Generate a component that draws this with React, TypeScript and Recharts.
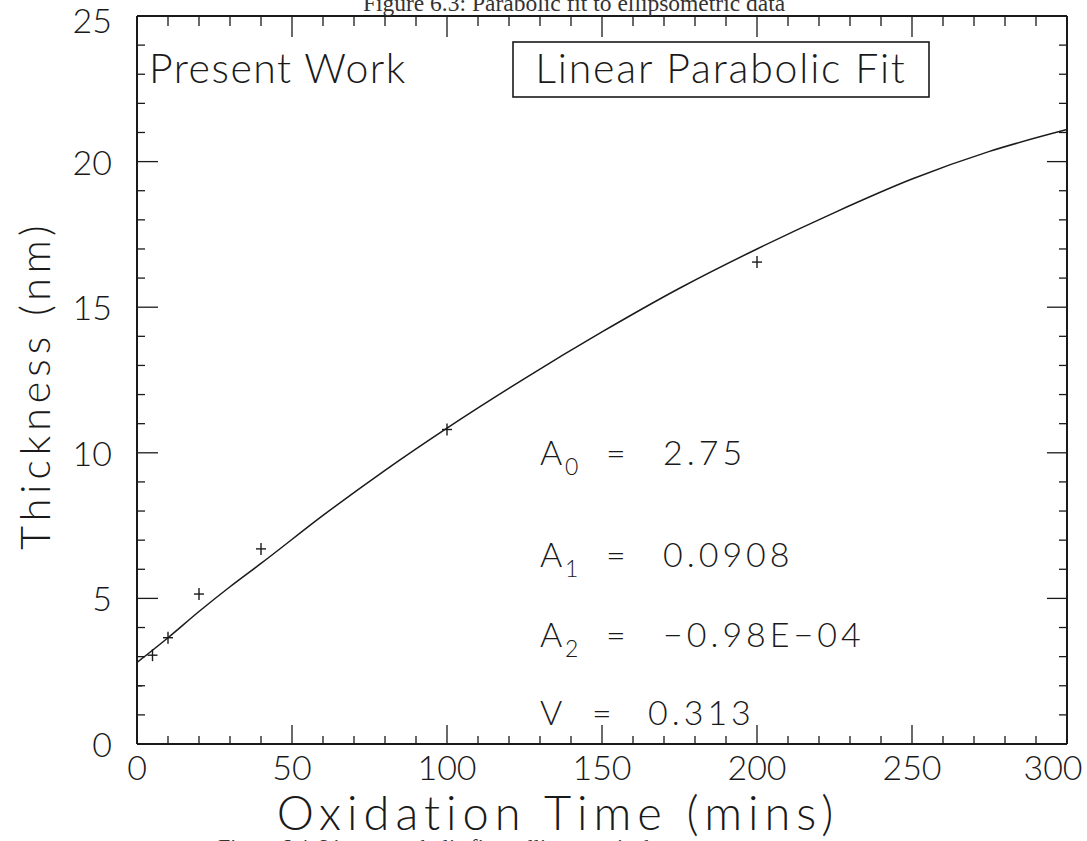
import React from "react";
import { ComposedChart, Line, Scatter, XAxis, YAxis } from "recharts";

// ---- data ----
const pointTimes = [0, 5, 10, 20, 40, 100, 200];
const pointThickness = [2.0, 3.05, 3.65, 5.15, 6.7, 10.8, 16.55];

const fitTimes = [0, 10, 20, 30, 40, 60, 80, 100, 125, 150, 175, 200, 225, 250, 275, 300];
const fitThickness = [2.8, 3.65, 4.55, 5.4, 6.2, 7.85, 9.4, 10.85, 12.55, 14.15, 15.65, 17.0, 18.25, 19.4, 20.35, 21.1];

const xTicks = [0, 10, 20, 30, 40, 50, 60, 70, 80, 90, 100, 110, 120, 130, 140, 150, 160, 170, 180, 190, 200, 210, 220, 230, 240, 250, 260, 270, 280, 290, 300];
const xMajor = [0, 50, 100, 150, 200, 250, 300];
const yTicks = [0, 1, 2, 3, 4, 5, 6, 7, 8, 9, 10, 11, 12, 13, 14, 15, 16, 17, 18, 19, 20, 21, 22, 23, 24, 25];
const yMajor = [0, 5, 10, 15, 20, 25];

const titleTop = "Figure 6.3: Parabolic fit to ellipsometric data";
const captionBottom = "Figure 6.4: Linear parabolic fit to ellipsometric data";
const legendLeft = "Present Work";
const legendBox = "Linear Parabolic Fit";
const xTitle = "Oxidation Time (mins)";
const yTitle = "Thickness (nm)";
const params = [
  { name: "A", sub: "0", value: "2.75" },
  { name: "A", sub: "1", value: "0.0908" },
  { name: "A", sub: "2", value: "\u22120.98E\u221204" },
];
const vValue = "0.313";

const points = pointTimes.map((t, i) => ({ t, y: pointThickness[i] }));
const fit = fitTimes.map((t, i) => ({ t, y: fitThickness[i] }));

const FONT = "Lato, 'Open Sans', 'DejaVu Sans', sans-serif";
const INK = "#1a1a1a";

const BottomTick = (props: any) => {
  const { x, y, payload } = props;
  const major = xMajor.includes(payload.value);
  const lx = payload.value === 300 ? x - 14 : x;
  return (
    <g>
      <line x1={x} x2={x} y1={y} y2={y - (major ? 19 : 8)} stroke={INK} strokeWidth={1.3} />
      {major && (
        <text x={lx} y={y + 36} textAnchor="middle" fontFamily={FONT} fontWeight={300} fontSize={34} fill={INK}>
          {payload.value}
        </text>
      )}
    </g>
  );
};

const TopTick = (props: any) => {
  const { x, y, payload } = props;
  const major = xMajor.includes(payload.value);
  return <line x1={x} x2={x} y1={y} y2={y + (major ? 21 : 10)} stroke={INK} strokeWidth={1.3} />;
};

const LeftTick = (props: any) => {
  const { x, y, payload } = props;
  const major = yMajor.includes(payload.value);
  const dy = payload.value === 25 ? 17 : 13;
  return (
    <g>
      <line x1={x} x2={x + (major ? 21 : 8)} y1={y} y2={y} stroke={INK} strokeWidth={1.3} />
      {major && (
        <text x={x - 25} y={y + dy} textAnchor="end" fontFamily={FONT} fontWeight={300} fontSize={34} fill={INK}>
          {payload.value}
        </text>
      )}
    </g>
  );
};

const RightTick = (props: any) => {
  const { x, y, payload } = props;
  const major = yMajor.includes(payload.value);
  return <line x1={x} x2={x - (major ? 20 : 8)} y1={y} y2={y} stroke={INK} strokeWidth={1.3} />;
};

const CrossShape = (props: any) => {
  const { cx, cy } = props;
  if (cx == null || cy == null) return null;
  return (
    <g>
      <line x1={cx - 5} x2={cx + 5} y1={cy} y2={cy} stroke={INK} strokeWidth={1.4} />
      <line x1={cx} x2={cx} y1={cy - 6} y2={cy + 6} stroke={INK} strokeWidth={1.4} />
    </g>
  );
};

const txt = { fontFamily: FONT, fontWeight: 300, fill: INK } as const;

const axisCommon = {
  tickSize: 0,
  tickMargin: 0,
  tickLine: false,
  interval: 0 as const,
  allowDataOverflow: true,
  axisLine: { stroke: INK, strokeWidth: 2 },
};

export default function App() {
  return (
    <div style={{ position: "absolute", left: 0, top: 0, width: 1087, height: 841, background: "#fff", overflow: "hidden" }}>
      <ComposedChart width={1087} height={841} margin={{ top: 15, right: 19, bottom: 96, left: 136 }}>
        <XAxis
          xAxisId="bottom"
          dataKey="t"
          type="number"
          domain={[0, 300]}
          ticks={xTicks}
          height={1}
          tick={<BottomTick />}
          {...axisCommon}
        />
        <XAxis
          xAxisId="top"
          orientation="top"
          dataKey="t"
          type="number"
          domain={[0, 300]}
          ticks={xTicks}
          height={1}
          tick={<TopTick />}
          {...axisCommon}
        />
        <YAxis
          yAxisId="left"
          type="number"
          domain={[0, 25]}
          ticks={yTicks}
          width={1}
          tick={<LeftTick />}
          {...axisCommon}
        />
        <YAxis
          yAxisId="right"
          orientation="right"
          type="number"
          domain={[0, 25]}
          ticks={yTicks}
          width={1}
          tick={<RightTick />}
          {...axisCommon}
        />
        <Line
          xAxisId="top"
          yAxisId="right"
          data={fit}
          dataKey="y"
          type="monotone"
          stroke="none"
          dot={false}
          activeDot={false}
          isAnimationActive={false}
        />
        <Line
          xAxisId="bottom"
          yAxisId="left"
          data={fit}
          dataKey="y"
          type="monotone"
          stroke={INK}
          strokeWidth={1.5}
          dot={false}
          activeDot={false}
          isAnimationActive={false}
        />
        <Scatter
          xAxisId="bottom"
          yAxisId="left"
          data={points}
          dataKey="y"
          shape={<CrossShape />}
          isAnimationActive={false}
        />
      </ComposedChart>
      <svg width={1087} height={841} style={{ position: "absolute", left: 0, top: 0, pointerEvents: "none" }}>
        <text x={574} y={11} textAnchor="middle" fontFamily="'Liberation Serif', 'DejaVu Serif', serif" fontSize={23.5} fill="#333">
          {titleTop}
        </text>
        <text x={218} y={854} fontFamily="'Liberation Serif', 'DejaVu Serif', serif" fontSize={22} fill="#333">
          {captionBottom}
        </text>
        <text x={149} y={83} fontSize={41} letterSpacing={1.5} {...txt}>{legendLeft}</text>
        <rect x={513} y={42} width={416} height={55} fill="none" stroke={INK} strokeWidth={1.6} />
        <text x={721} y={83} textAnchor="middle" fontSize={41} letterSpacing={1.8} {...txt}>{legendBox}</text>
        {params.map((p, i) => {
          const base = [465, 567, 647][i];
          return (
            <g key={i}>
              <text x={540} y={base} fontSize={34} {...txt}>{p.name}</text>
              <text x={565} y={base + 10} fontSize={23} {...txt}>{p.sub}</text>
              <text x={606} y={base} fontSize={34} {...txt}>=</text>
              <text x={663} y={base} fontSize={34} letterSpacing={4} {...txt}>{p.value}</text>
            </g>
          );
        })}
        <text x={540} y={725} fontSize={34} {...txt}>V</text>
        <text x={592} y={725} fontSize={34} {...txt}>=</text>
        <text x={648} y={725} fontSize={34} letterSpacing={4} {...txt}>{vValue}</text>
        <text x={558} y={830} textAnchor="middle" fontSize={47} letterSpacing={6} {...txt}>{xTitle}</text>
        <text
          x={0}
          y={0}
          transform="translate(50 385) rotate(-90)"
          textAnchor="middle"
          fontSize={41}
          letterSpacing={5}
          {...txt}
        >
          {yTitle}
        </text>
      </svg>
    </div>
  );
}
